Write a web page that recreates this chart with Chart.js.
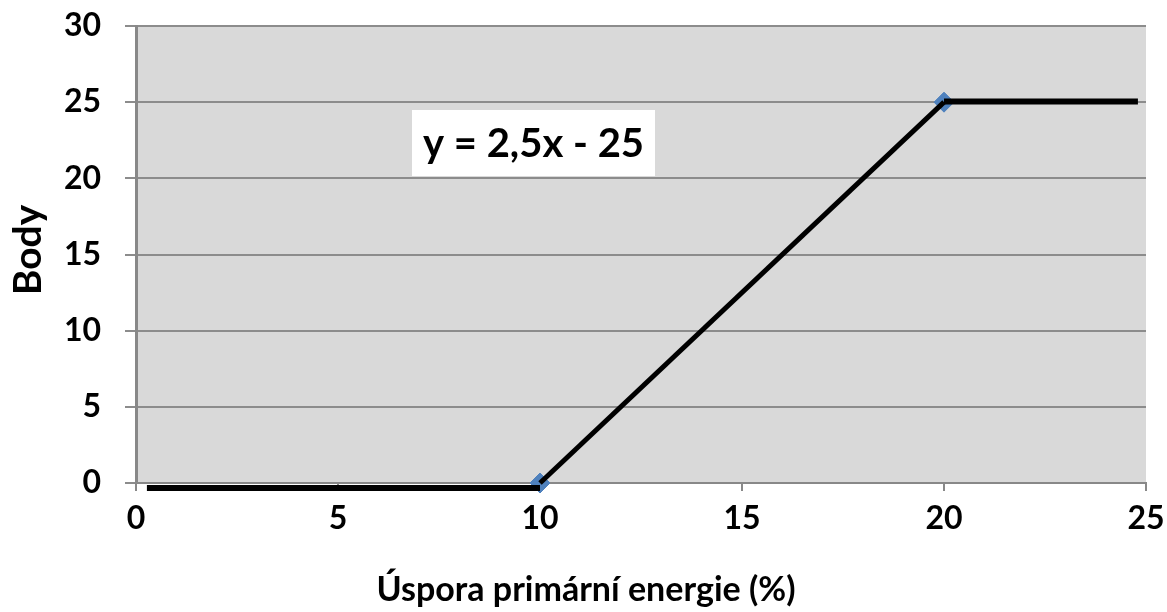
<!DOCTYPE html>
<html>
<head>
<meta charset="utf-8">
<script src="https://cdn.jsdelivr.net/npm/chart.js@4.4.1/dist/chart.umd.min.js"></script>
<style>
html,body{margin:0;padding:0;background:#fff;}
#wrap{width:1167px;height:612px;}
</style>
</head>
<body>
<div id="wrap"><canvas id="c" width="1167" height="612"></canvas></div>
<script>
// Data
const bottomX = [0.27, 10];
const bottomY = [-0.33, -0.33];
const slopeX = [10, 20];
const slopeY = [0, 25];
const topX = [20, 24.8];
const topY = [25.05, 25.05];
const markerX = [10, 20];
const markerY = [0, 25];
const yTicks = [0, 5, 10, 15, 20, 25, 30];
const xTicks = [0, 5, 10, 15, 20, 25];
const xTitle = 'Úspora primární energie (%)';
const yTitle = 'Body';
const equation = 'y = 2,5x - 25';

const pts = (xs, ys) => xs.map((x, i) => ({x: x, y: ys[i]}));
const FONT = 'Lato, "Open Sans", sans-serif';

const bgPlugin = {
  id: 'bg',
  beforeDraw(chart) {
    const a = chart.chartArea, ctx = chart.ctx;
    ctx.save();
    ctx.fillStyle = '#d9d9d9';
    ctx.fillRect(a.left, a.top, a.right - a.left, a.bottom - a.top);
    ctx.restore();
  }
};
const textPlugin = {
  id: 'texts',
  afterDatasetsDraw(chart) {
    const ctx = chart.ctx, a = chart.chartArea;
    ctx.save();
    // equation box
    const x0 = a.left + 276, y0 = a.top + 84, w = 243, h = 66;
    ctx.fillStyle = '#ffffff';
    ctx.fillRect(x0, y0, w, h);
    ctx.fillStyle = '#000';
    ctx.font = 'bold 40px ' + FONT;
    ctx.textAlign = 'center';
    ctx.textBaseline = 'middle';
    ctx.fillText(equation, x0 + w / 2, y0 + h / 2 + 1);
    // axis titles
    ctx.font = 'bold 34px ' + FONT;
    ctx.fillText(xTitle, 586, 590);
    ctx.translate(28, 250);
    ctx.rotate(-Math.PI / 2);
    ctx.font = 'bold 39px ' + FONT;
    ctx.fillText(yTitle, 0, 0);
    ctx.restore();
  }
};

new Chart(document.getElementById('c'), {
  type: 'scatter',
  data: {
    datasets: [
      {data: pts(markerX, markerY), showLine: false, pointStyle: 'rectRot', pointRadius: 10,
       backgroundColor: '#4f81bd', borderColor: '#4f81bd', order: 10},
      {data: pts(bottomX, bottomY), showLine: true, borderColor: '#000', borderWidth: 6,
       pointRadius: 0, borderCapStyle: 'butt', order: 1},
      {data: pts(slopeX, slopeY), showLine: true, borderColor: '#000', borderWidth: 5,
       pointRadius: 0, borderCapStyle: 'butt', order: 1},
      {data: pts(topX, topY), showLine: true, borderColor: '#000', borderWidth: 6,
       pointRadius: 0, borderCapStyle: 'butt', order: 1}
    ]
  },
  options: {
    responsive: false,
    animation: false,
    devicePixelRatio: 1,
    clip: false,
    layout: {padding: {left: 0, top: 26, right: 21, bottom: 0}},
    plugins: {legend: {display: false}, tooltip: {enabled: false}},
    scales: {
      x: {
        type: 'linear', min: 0, max: 25,
        afterBuildTicks(s) { s.ticks = xTicks.map(v => ({value: v})); },
        afterFit(s) { s.height = 129; s.paddingLeft = 0; s.paddingRight = 0; },
        grid: {display: true, drawOnChartArea: false, color: '#888888', lineWidth: 2, tickLength: 8},
        border: {display: true, color: '#888888', width: 2},
        ticks: {color: '#000', font: {family: FONT, weight: 'bold', size: 32}, padding: 8, maxRotation: 0}
      },
      y: {
        type: 'linear', min: 0, max: 30,
        afterBuildTicks(s) { s.ticks = yTicks.map(v => ({value: v})); },
        afterFit(s) { s.width = 136; s.paddingTop = 0; s.paddingBottom = 0; },
        grid: {display: true, drawOnChartArea: true, color: '#8c8c8c', lineWidth: 2, tickLength: 11},
        border: {display: true, color: '#888888', width: 3},
        ticks: {color: '#000', font: {family: FONT, weight: 'bold', size: 32}, padding: 24}
      }
    }
  },
  plugins: [bgPlugin, textPlugin]
});
</script>
</body>
</html>
